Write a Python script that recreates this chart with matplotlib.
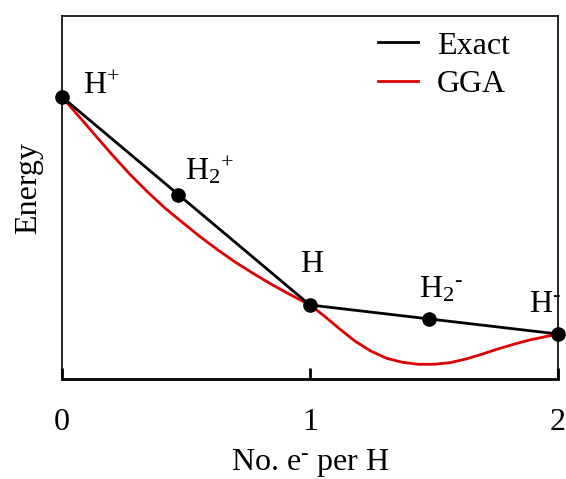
import numpy as np
import matplotlib
matplotlib.use("Agg")
import matplotlib.pyplot as plt

plt.rcParams['font.family'] = ['Liberation Serif', 'DejaVu Serif']
plt.rcParams['mathtext.fontset'] = 'custom'
plt.rcParams['mathtext.rm'] = 'Liberation Serif'
plt.rcParams['mathtext.it'] = 'Liberation Serif:italic'

# exact: piecewise linear between integer electron counts
exact_x = [0, 1, 2]
exact_y = [282, 74, 45]

# labelled species on the exact line
species = ['H$^{+}$', 'H$_2$$^{+}$', 'H', r'H$_2$$^{\text{-}}$', r'H$^{\text{-}}$']
species_x = [0, 0.47, 1, 1.48, 2]
species_y = [282, 184, 74, 60, 45]
label_x = [0.085, 0.496, 0.962, 1.442, 1.885]
label_y = [285, 199, 107, 81, 67]

# GGA curve, read along its length
gga_x = [0, 0.133, 0.203, 0.274, 0.344, 0.415, 0.486, 0.556, 0.627, 0.698,
         0.768, 0.839, 0.910, 0.980, 1.0, 1.053, 1.117, 1.181, 1.245, 1.309,
         1.373, 1.437, 1.501, 1.565, 1.630, 1.693, 1.758, 1.822, 1.886, 1.950, 2.0]
gga_y = [282, 244, 224, 204.7, 187.3, 171, 156.5, 142.5, 129.3, 117,
         106, 95.5, 85.8, 76.5, 74, 64, 50.7, 38, 28, 20.7,
         16.7, 14.7, 14.7, 16.3, 20, 24.7, 30, 34.7, 39, 42.3, 45]

fig = plt.figure(figsize=(5.66, 4.79), dpi=100)
ax = fig.add_axes([0.1095, 0.2088, 0.876, 0.758])

ax.plot(exact_x, exact_y, color='black', lw=2.0, label='Exact', zorder=3)
ax.plot(gga_x, gga_y, color='#dd0000', lw=2.0, label='GGA', zorder=2)
ax.plot(species_x, species_y, 'o', color='black', ms=9.5, zorder=4, clip_on=False)

for s, tx, ty in zip(species, label_x, label_y):
    ax.text(tx, ty, s, fontsize=23, ha='left', va='baseline')

ax.set_xlim(0, 2)
ax.set_ylim(0, 363)
ax.set_xticks([0, 1, 2])
ax.set_xticklabels(['0', '1', '2'])
ax.set_yticks([])
ax.tick_params(axis='x', direction='in', length=8, width=2, pad=21, labelsize=23)

for side in ['left', 'top', 'right']:
    ax.spines[side].set_linewidth(1.2)
ax.spines['bottom'].set_linewidth(2.0)

ax.set_xlabel(r'No. e$^{\text{-}}$ per H', fontsize=23, labelpad=7)
ax.set_ylabel('Energy', fontsize=23)
ax.yaxis.set_label_coords(-0.038, 0.526)

ax.legend(loc='upper left', bbox_to_anchor=(0.637, 0.958), frameon=False,
          fontsize=23, handlelength=1.25, handletextpad=0.6, labelspacing=0.28,
          borderpad=0, borderaxespad=0)

plt.savefig('out.png', dpi=100)
